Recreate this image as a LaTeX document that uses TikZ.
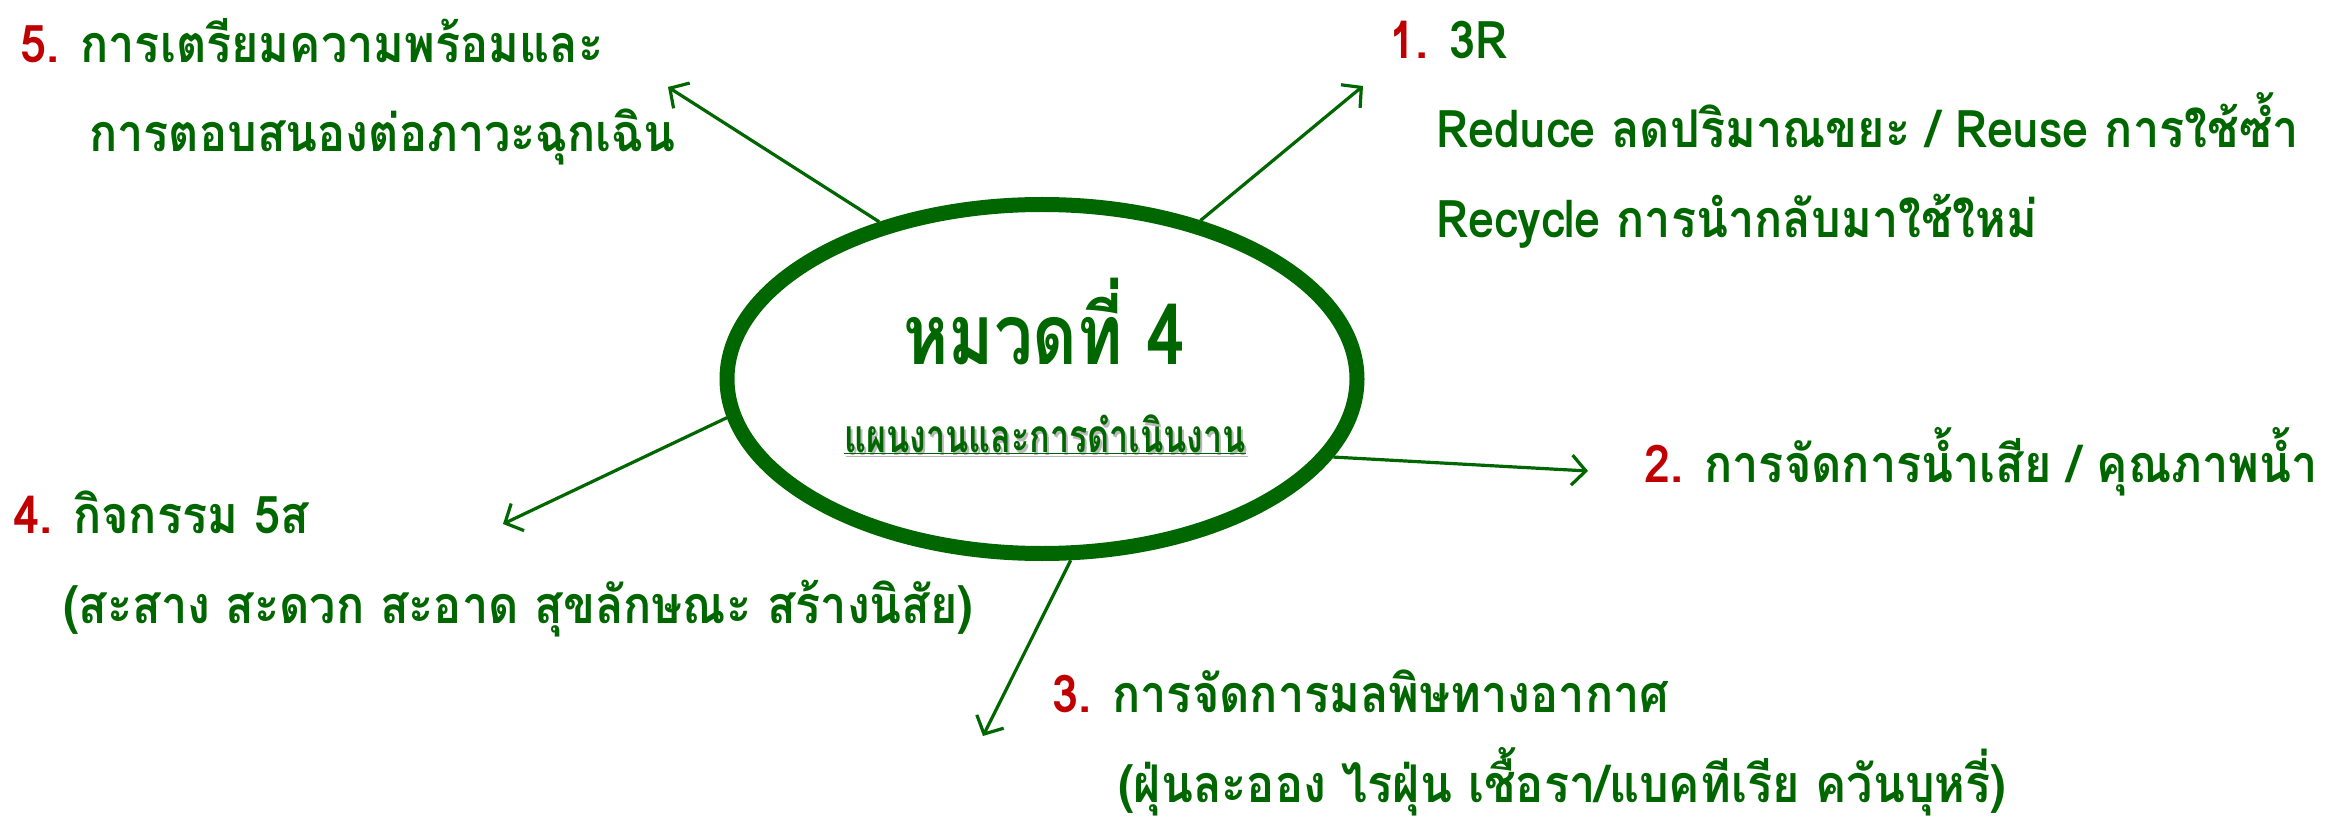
\documentclass[tikz,border=0pt]{standalone}
\usepackage{fontspec}
\newfontfamily\thaiI[Script=Thai,FakeStretch=0.9]{Loma}
\newfontfamily\thaiT[Script=Thai,FakeStretch=0.82]{Loma}
\newfontfamily\thaiS[Script=Thai,FakeStretch=0.74]{Loma}
\usetikzlibrary{arrows.meta,shapes.geometric}
\definecolor{dg}{HTML}{006600}
\definecolor{nr}{HTML}{C00000}
\definecolor{shd}{HTML}{B8B8B8}
\begin{document}
\begin{tikzpicture}[x=1pt,y=-1pt,
  item/.style={anchor=base west, inner sep=0pt, text=dg, font=\thaiI\bfseries\fontsize{52}{60}\selectfont},
  arr/.style={draw=dg, line width=3.2pt, -{Straight Barb[length=14pt,width=30pt,line width=3.2pt]}},
  sub/.style={anchor=base, inner sep=0pt, font=\thaiS\bfseries\fontsize{46}{50}\selectfont}]
\useasboundingbox (0,0) rectangle (2338,818);
% central ellipse
\node[ellipse, draw=dg, line width=15pt, minimum width=630pt, minimum height=349pt, inner sep=0pt] (E) at (1042,379) {};
\node[anchor=base, inner sep=0pt, text=dg, font=\thaiT\bfseries\fontsize{84}{90}\selectfont] (T) at (1044,365) {หมวดที่ 4};
\node[sub, text=shd] (Ss) at (1047,455) {\underline{แผนงานและการดำเนินงาน}};
\node[sub, text=dg] (S) at (1045,452) {\underline{แผนงานและการดำเนินงาน}};
% arrow tips
\coordinate (t5) at (668,87);
\coordinate (t1) at (1363,86);
\coordinate (t2) at (1588,471);
\coordinate (t3) at (983,736);
\coordinate (t4) at (503,524);
\draw[arr] (E.136.6) -- (t5);
\draw[arr] (E.45.4) -- (t1);
\draw[arr] (E.-15.7) -- (t2);
\draw[arr] (E.-81.8) -- (t3);
\draw[arr] (E.187.4) -- (t4);
% items
\node[item] (i5a) at (20,63) {\textcolor{nr}{5.} การเตรียมความพร้อมและ};
\node[item] (i5b) at (89,152) {การตอบสนองต่อภาวะฉุกเฉิน};
\node[item] (i1a) at (1389,59) {\textcolor{nr}{1.} 3R};
\node[item] (i1b) at (1436,148) {Reduce ลดปริมาณขยะ / Reuse การใช้ซ้ำ};
\node[item] (i1c) at (1436,238) {Recycle การนำกลับมาใช้ใหม่};
\node[item] (i2) at (1644,482) {\textcolor{nr}{2.} การจัดการน้ำเสีย / คุณภาพน้ำ};
\node[item] (i3a) at (1052,712) {\textcolor{nr}{3.} การจัดการมลพิษทางอากาศ};
\node[item] (i3b) at (1118,802) {(ฝุ่นละออง ไรฝุ่น เชื้อรา/แบคทีเรีย ควันบุหรี่)};
\node[item] (i4a) at (13,533) {\textcolor{nr}{4.} กิจกรรม 5ส};
\node[item] (i4b) at (63,623) {(สะสาง สะดวก สะอาด สุขลักษณะ สร้างนิสัย)};
\end{tikzpicture}
\end{document}
